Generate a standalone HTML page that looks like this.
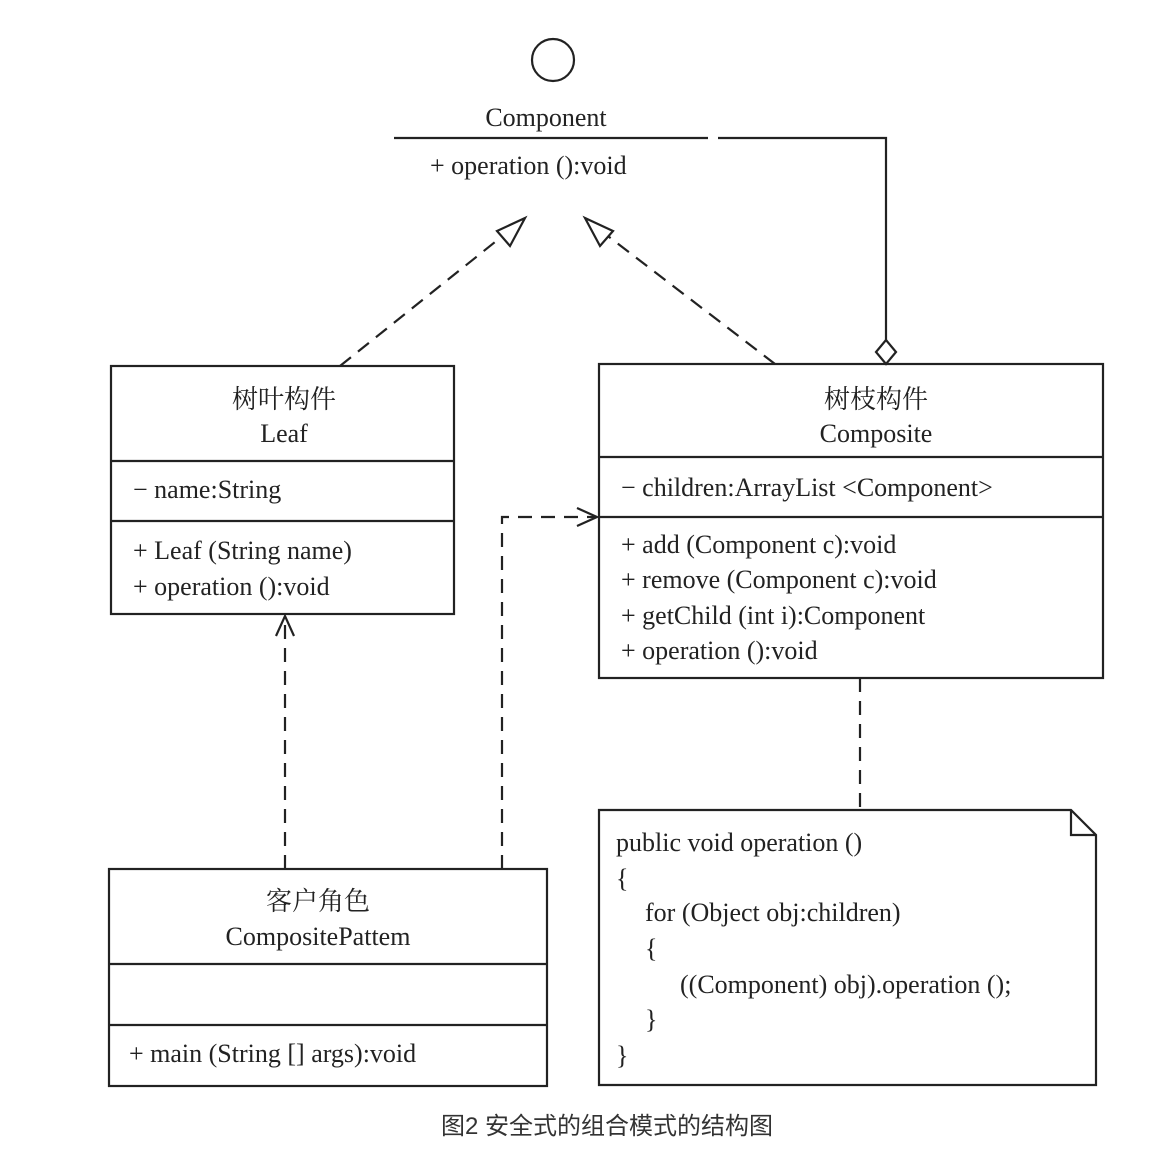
<!DOCTYPE html>
<html><head><meta charset="utf-8"><style>
html,body{margin:0;padding:0;background:#fff;}
svg{display:block}
text{font-family:"Liberation Serif","Noto Serif CJK SC",serif;font-size:26px;fill:#222}
.cn{font-family:"Liberation Serif","Noto Serif CJK SC",serif}
</style></head><body>
<svg width="1158" height="1172" viewBox="0 0 1158 1172" xmlns="http://www.w3.org/2000/svg">
<g stroke="#222" stroke-width="2.2" fill="none">
<circle cx="553" cy="60" r="21"/>
<line x1="394" y1="138" x2="708" y2="138"/>
<polyline points="718,138 886,138 886,340"/>
<polygon points="886,340 896,352 886,364 876,352" fill="#fff"/>
<!-- Leaf -->
<rect x="111" y="366" width="343" height="248"/>
<line x1="111" y1="461" x2="454" y2="461"/>
<line x1="111" y1="521" x2="454" y2="521"/>
<!-- Composite -->
<rect x="599" y="364" width="504" height="314"/>
<line x1="599" y1="457" x2="1103" y2="457"/>
<line x1="599" y1="517" x2="1103" y2="517"/>
<!-- Client -->
<rect x="109" y="869" width="438" height="217"/>
<line x1="109" y1="964" x2="547" y2="964"/>
<line x1="109" y1="1025" x2="547" y2="1025"/>
<!-- Note -->
<polygon points="599,810 1071,810 1096,835 1096,1085 599,1085"/>
<polyline points="1071,810 1071,835 1096,835"/>
<!-- dashed -->
<g stroke-dasharray="14,9">
<line x1="340" y1="366" x2="510" y2="230"/>
<line x1="775" y1="364" x2="600" y2="230"/>
<line x1="285" y1="869" x2="285" y2="618"/>
<polyline points="502,869 502,517 595,517"/>
<line x1="860" y1="678" x2="860" y2="810"/>
</g>
<polygon points="525,218 497,231 510,246" fill="#fff"/>
<polygon points="585,218 613,231 600,246" fill="#fff"/>
<polyline points="276,636 285,616 294,636"/>
<polyline points="577,508 597,517 577,526"/>
</g>
<text x="546" y="126" text-anchor="middle">Component</text>
<text x="430" y="174">+ operation ():void</text>
<text x="284" y="408" text-anchor="middle" class="cn">树叶构件</text>
<text x="284" y="442" text-anchor="middle">Leaf</text>
<text x="133" y="498">− name:String</text>
<text x="133" y="559">+ Leaf (String name)</text>
<text x="133" y="595">+ operation ():void</text>
<text x="876" y="408" text-anchor="middle" class="cn">树枝构件</text>
<text x="876" y="442" text-anchor="middle">Composite</text>
<text x="621" y="496">− children:ArrayList &lt;Component&gt;</text>
<text x="621" y="553">+ add (Component c):void</text>
<text x="621" y="588">+ remove (Component c):void</text>
<text x="621" y="624">+ getChild (int i):Component</text>
<text x="621" y="659">+ operation ():void</text>
<text x="318" y="910" text-anchor="middle" class="cn">客户角色</text>
<text x="318" y="945" text-anchor="middle">CompositePattem</text>
<text x="129" y="1062">+ main (String [] args):void</text>
<text x="616" y="851">public void operation ()</text>
<text x="616" y="887">{</text>
<text x="645" y="921">for (Object obj:children)</text>
<text x="645" y="957">{</text>
<text x="680" y="993">((Component) obj).operation ();</text>
<text x="645" y="1028">}</text>
<text x="616" y="1064">}</text>
<text x="607" y="1134" text-anchor="middle" style="font-family:'Liberation Sans','Noto Sans CJK SC',sans-serif;font-size:24px;fill:#333">图2 安全式的组合模式的结构图</text>
</svg>
</body></html>
